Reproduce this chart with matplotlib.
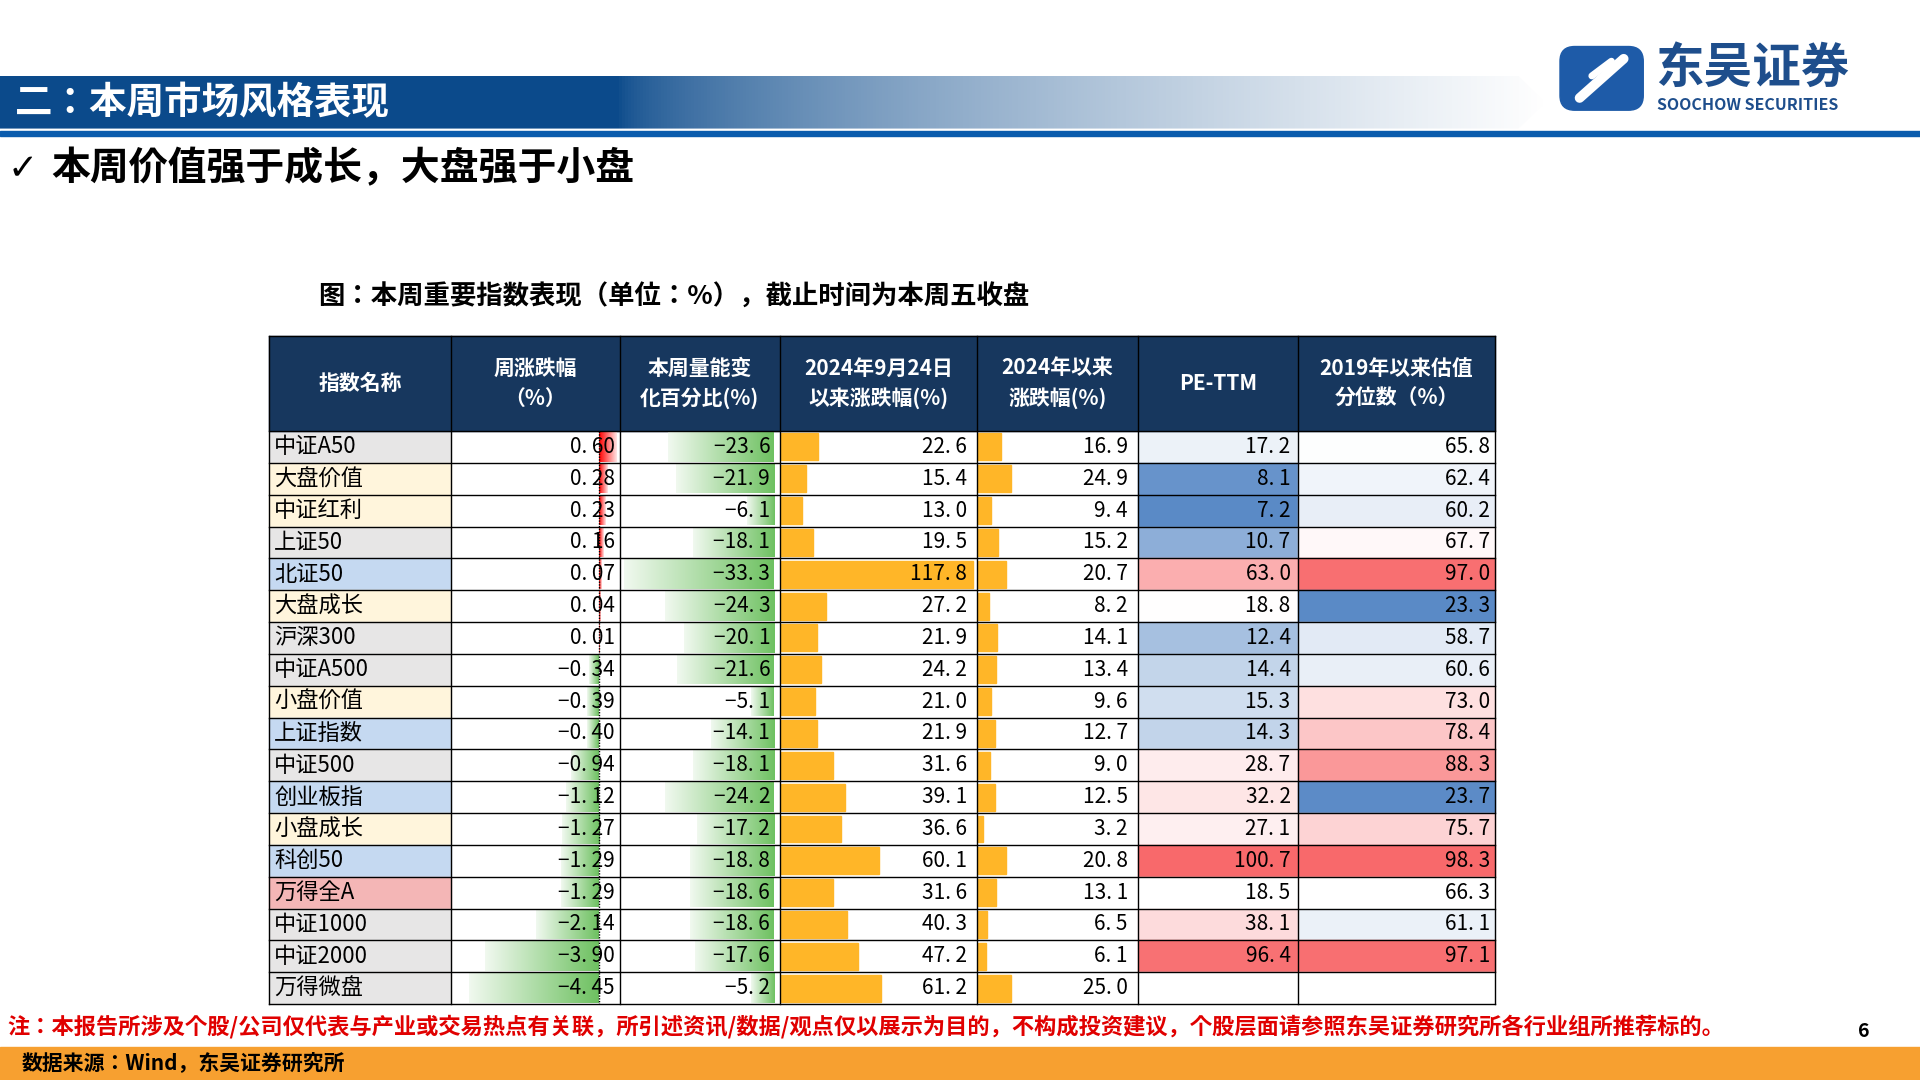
import numpy as np
import matplotlib
matplotlib.use("Agg")
import matplotlib.pyplot as plt
from matplotlib import font_manager
from matplotlib.patches import Rectangle, Polygon, FancyBboxPatch
from matplotlib.colors import to_rgb

cjk = [f.name for f in font_manager.fontManager.ttflist if "CJK" in f.name]
pref = [n for n in ["Noto Sans CJK SC", "Noto Sans CJK JP", "Noto Sans CJK TC"] if n in cjk] or cjk[:1]
FONT = pref[0] if pref else "DejaVu Sans"
plt.rcParams["font.family"] = [FONT, "DejaVu Sans"]

# ---- data ----
NAMES = ["中证A50", "大盘价值", "中证红利", "上证50", "北证50", "大盘成长", "沪深300", "中证A500",
         "小盘价值", "上证指数", "中证500", "创业板指", "小盘成长", "科创50", "万得全A", "中证1000",
         "中证2000", "万得微盘"]
NAME_GROUP = ["g", "y", "y", "g", "b", "y", "g", "g", "y", "b", "g", "b", "y", "b", "p", "g", "g", "g"]
WEEK_CHG = [0.60, 0.28, 0.23, 0.16, 0.07, 0.04, 0.01, -0.34, -0.39, -0.40, -0.94, -1.12, -1.27,
            -1.29, -1.29, -2.14, -3.90, -4.45]
VOL_CHG = [-23.6, -21.9, -6.1, -18.1, -33.3, -24.3, -20.1, -21.6, -5.1, -14.1, -18.1, -24.2, -17.2,
           -18.8, -18.6, -18.6, -17.6, -5.2]
SINCE_0924 = [22.6, 15.4, 13.0, 19.5, 117.8, 27.2, 21.9, 24.2, 21.0, 21.9, 31.6, 39.1, 36.6, 60.1,
              31.6, 40.3, 47.2, 61.2]
YTD_2024 = [16.9, 24.9, 9.4, 15.2, 20.7, 8.2, 14.1, 13.4, 9.6, 12.7, 9.0, 12.5, 3.2, 20.8, 13.1,
            6.5, 6.1, 25.0]
PE_TTM = [17.2, 8.1, 7.2, 10.7, 63.0, 18.8, 12.4, 14.4, 15.3, 14.3, 28.7, 32.2, 27.1, 100.7, 18.5,
          38.1, 96.4, None]
PE_PCT = [65.8, 62.4, 60.2, 67.7, 97.0, 23.3, 58.7, 60.6, 73.0, 78.4, 88.3, 23.7, 75.7, 98.3, 66.3,
          61.1, 97.1, None]
HEADERS = ["指数名称", "周涨跌幅\n（%）", "本周量能变\n化百分比(%)", "2024年9月24日\n以来涨跌幅(%)",
           "2024年以来\n涨跌幅(%)", "PE-TTM", "2019年以来估值\n分位数（%）"]

GROUP_COLORS = {"g": "#E7E6E6", "y": "#FFF5DC", "b": "#C5D9F1", "p": "#F4B6B6"}
NAVY = "#17375E"

fig = plt.figure(figsize=(19.2, 10.8), dpi=100)
ax = fig.add_axes([0, 0, 1, 1])
ax.set_xlim(0, 1568)
ax.set_ylim(882, 0)
ax.axis("off")

# ---- header banner ----
grad = np.linspace(0, 1, 512)
c0, c1 = np.array(to_rgb("#0B4A8B")), np.array(to_rgb("#FFFFFF"))
t = np.clip((grad - 0.4) / 0.6, 0, 1) ** 0.6
img = (c0[None, :] * (1 - t[:, None]) + c1[None, :] * t[:, None])[None, :, :]
im = ax.imshow(img, extent=(0, 1262, 105, 62), aspect="auto", zorder=1)
clip = Polygon([(0, 62), (1240, 62), (1262, 84), (1240, 105), (0, 105)], closed=True,
               transform=ax.transData, facecolor="none", edgecolor="none")
ax.add_patch(clip)
im.set_clip_path(clip)
ax.add_patch(Rectangle((0, 107), 1568, 4, color="#0B5CAD", zorder=2))
ax.text(12, 84, "二：本周市场风格表现", color="white", fontsize=27, fontweight="bold",
        va="center", ha="left", zorder=3)

# logo
ax.add_patch(FancyBboxPatch((1274, 38), 68, 52, boxstyle="round,pad=0,rounding_size=12",
                            color="#1E5BA8", zorder=3))
ax.plot([1290, 1326], [80, 48], color="white", lw=7, solid_capstyle="round", zorder=4)
ax.plot([1300, 1316], [62, 50], color="white", lw=5, solid_capstyle="round", zorder=4)
ax.text(1352, 56, "东吴证券", color="#1E4E8C", fontsize=35, fontweight="bold", va="center", zorder=3)
ax.text(1353, 86, "SOOCHOW SECURITIES", color="#1E4E8C", fontsize=11.5, fontweight="bold",
        va="center", zorder=3)

ax.text(6, 138, "✓", fontsize=26, fontweight="bold", va="center", family="DejaVu Sans")
ax.text(42, 138, "本周价值强于成长，大盘强于小盘", fontsize=28, fontweight="bold", va="center")
ax.text(260, 243, "图：本周重要指数表现（单位：%），截止时间为本周五收盘", fontsize=19,
        fontweight="bold", va="center")

# ---- table ----
cols = [220, 368, 506, 637, 798, 929, 1060, 1221]
top, head_bot, row_h = 274, 352, 26.0
n = len(NAMES)
bottom = head_bot + n * row_h

ax.add_patch(Rectangle((cols[0], top), cols[-1] - cols[0], head_bot - top, color=NAVY, zorder=2))
for j, h in enumerate(HEADERS):
    ax.text((cols[j] + cols[j + 1]) / 2, (top + head_bot) / 2, h, color="white", fontsize=15,
            fontweight="bold", ha="center", va="center", linespacing=1.5, zorder=3)


def gradient_bar(x0, x1, y0, y1, c_strong, strong_at_left):
    g = np.linspace(0, 1, 128)
    if not strong_at_left:
        g = g[::-1]
    g = g * 0.9
    cs, cw = np.array(to_rgb(c_strong)), np.array([1.0, 1.0, 1.0])
    arr = (cs[None, :] * (1 - g[:, None]) + cw[None, :] * g[:, None])[None, :, :]
    ax.imshow(arr, extent=(min(x0, x1), max(x0, x1), y1, y0), aspect="auto", zorder=2)


def scale_colors(vals):
    valid = [v for v in vals if v is not None]
    lo, mid, hi = min(valid), float(np.median(valid)), max(valid)
    blue, white, red = np.array(to_rgb("#5A8AC6")), np.ones(3), np.array(to_rgb("#F8696B"))
    out = []
    for v in vals:
        if v is None:
            out.append("white")
        elif v <= mid:
            f = (mid - v) / (mid - lo)
            out.append(tuple(white * (1 - f) + blue * f))
        else:
            f = (v - mid) / (hi - mid)
            out.append(tuple(white * (1 - f) + red * f))
    return out


pe_cols = scale_colors(PE_TTM)
pct_cols = scale_colors(PE_PCT)

wk_axis = 489
wk_scale = 106 / 4.45
vol_axis = 632
vol_scale = 122 / 33.3
s924_scale = 157 / 117.8
ytd_scale = 27 / 25.0
numfont = dict(fontsize=15, ha="right", va="center", zorder=4)


def fmt(x, nd):
    return f"{x:.{nd}f}".replace(".", ". ").replace("-", "−")


for i in range(n):
    y0 = head_bot + i * row_h
    y1 = y0 + row_h
    yc = (y0 + y1) / 2
    ax.add_patch(Rectangle((cols[0], y0), cols[1] - cols[0], row_h,
                           color=GROUP_COLORS[NAME_GROUP[i]], zorder=1))
    ax.text(cols[0] + 4, yc, NAMES[i], fontsize=16, va="center", ha="left", zorder=4)

    w = WEEK_CHG[i]
    if w >= 0:
        gradient_bar(wk_axis, wk_axis + w * wk_scale, y0 + 1, y1 - 1, "#FF0000", True)
    else:
        gradient_bar(wk_axis + w * wk_scale, wk_axis, y0 + 1, y1 - 1, "#6EC161", False)
    ax.text(cols[2] - 4, yc, fmt(w, 2), **numfont)

    v = VOL_CHG[i]
    gradient_bar(vol_axis + v * vol_scale, vol_axis, y0 + 1, y1 - 1, "#6EC161", False)
    ax.text(cols[3] - 8, yc, fmt(v, 1), **numfont)

    s = SINCE_0924[i]
    ax.add_patch(Rectangle((cols[3] + 1, y0 + 2), s * s924_scale, row_h - 4, color="#FFB628", zorder=2))
    ax.text(cols[4] - 8, yc, fmt(s, 1), **numfont)

    yv = YTD_2024[i]
    ax.add_patch(Rectangle((cols[4] + 1, y0 + 2), yv * ytd_scale, row_h - 4, color="#FFB628", zorder=2))
    ax.text(cols[5] - 8, yc, fmt(yv, 1), **numfont)

    ax.add_patch(Rectangle((cols[5], y0), cols[6] - cols[5], row_h, color=pe_cols[i], zorder=1))
    if PE_TTM[i] is not None:
        ax.text(cols[6] - 6, yc, fmt(PE_TTM[i], 1), **numfont)
    ax.add_patch(Rectangle((cols[6], y0), cols[7] - cols[6], row_h, color=pct_cols[i], zorder=1))
    if PE_PCT[i] is not None:
        ax.text(cols[7] - 4, yc, fmt(PE_PCT[i], 1), **numfont)

    ax.plot([cols[0], cols[-1]], [y1, y1], color="black", lw=1, zorder=5)

ax.plot([wk_axis, wk_axis], [head_bot, bottom], color="black", lw=1, ls=(0, (1, 1)), zorder=5)
for x in cols:
    ax.plot([x, x], [top, bottom], color="black", lw=1, zorder=5)
ax.plot([cols[0], cols[-1]], [top, top], color="black", lw=1, zorder=5)
ax.plot([cols[0], cols[-1]], [head_bot, head_bot], color="black", lw=1, zorder=5)

# ---- footer ----
ax.text(6, 838, "注：本报告所涉及个股/公司仅代表与产业或交易热点有关联，所引述资讯/数据/观点仅以展示为目的，"
        "不构成投资建议，个股层面请参照东吴证券研究所各行业组所推荐标的。", color="#E00000",
        fontsize=16, va="center", fontweight="bold")
ax.text(1522, 842, "6", fontsize=14, fontweight="bold", va="center", ha="center")
ax.add_patch(Rectangle((0, 855), 1568, 27, color="#F7A030", zorder=2))
ax.text(18, 868, "数据来源：Wind，东吴证券研究所", fontsize=15, fontweight="bold", va="center", zorder=3)

fig.savefig("out.png", dpi=100)
